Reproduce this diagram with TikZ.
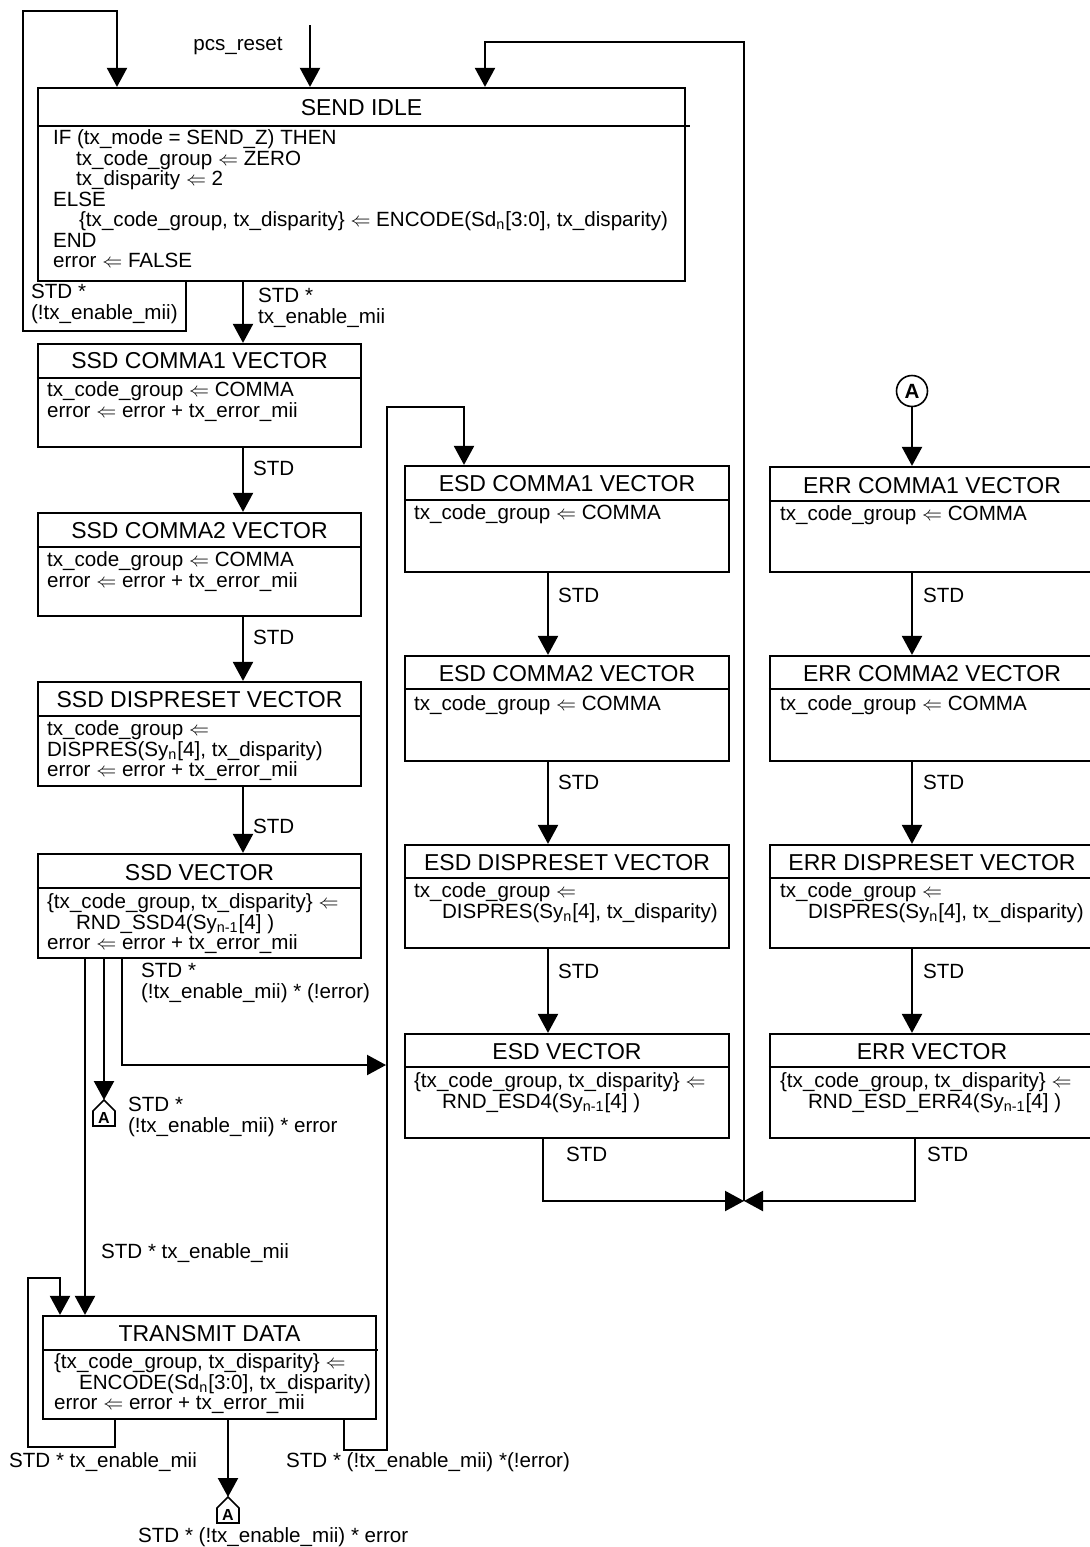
\documentclass[tikz,border=0pt]{standalone}
\usepackage{fontspec}
\setmainfont{Liberation Sans}
\usetikzlibrary{arrows.meta,fit}
\newcommand{\bodyfont}{\fontsize{10.3pt}{10.25pt}\selectfont}
\newcommand{\ttlfont}{\fontsize{11.5pt}{12pt}\selectfont}
\newcommand{\lto}{$\Leftarrow$}

\begin{document}
\begin{tikzpicture}[
  x=0.5pt, y=-0.5pt,
  line width=1.1pt,
  state/.style={draw, inner sep=0pt},
  ttl/.style={font=\ttlfont, anchor=base, inner sep=0pt},
  txt/.style={font=\bodyfont, align=left, anchor=north west, inner sep=0pt, yshift=0.75pt, execute at begin node=\strut},
  arr/.style={-{Triangle[length=9.5pt,width=10pt]}},
  offpage/.style={font=\fontsize{8pt}{8pt}\selectfont\bfseries, inner sep=0pt}
]
\useasboundingbox (0,0) rectangle (1089,1547);

% send idle
\node[state, fit={(38,88) (685,281)}] (idle) {};
\node[ttl] (idlettl) at (idle.north |- 0,115) {SEND IDLE};
\draw (idle.west |- 0,126) -- (690,126);
\node[txt] (idlebody) at (52,130) {IF (tx\_mode = SEND\_Z) THEN\\
  \hspace*{11.5pt}tx\_code\_group \lto{} ZERO\\
  \hspace*{11.5pt}tx\_disparity \lto{} 2\\
  ELSE\\
  \hspace*{13pt}\{tx\_code\_group, tx\_disparity\} \lto{} ENCODE(Sd\textsubscript{n}[3:0], tx\_disparity)\\
  END\\
  error \lto{} FALSE};

% ssd column
\node[state, fit={(38,344) (361,447)}] (ssdc1) {};
\node[ttl] (ssdc1ttl) at (ssdc1.north |- 0,368) {SSD COMMA1 VECTOR};
\draw (ssdc1.west |- 0,378) -- (ssdc1.east |- 0,378);
\node[txt] (ssdc1body) at (46,382) {tx\_code\_group \lto{} COMMA\\ error \lto{} error + tx\_error\_mii};

\node[state, fit={(38,513) (361,616)}] (ssdc2) {};
\node[ttl] (ssdc2ttl) at (ssdc2.north |- 0,538) {SSD COMMA2 VECTOR};
\draw (ssdc2.west |- 0,547) -- (ssdc2.east |- 0,547);
\node[txt] (ssdc2body) at (46,552) {tx\_code\_group \lto{} COMMA\\ error \lto{} error + tx\_error\_mii};

\node[state, fit={(38,682) (361,786)}] (ssdd) {};
\node[ttl] (ssddttl) at (ssdd.north |- 0,707) {SSD DISPRESET VECTOR};
\draw (ssdd.west |- 0,716) -- (ssdd.east |- 0,716);
\node[txt] (ssddbody) at (46,721) {tx\_code\_group \lto{}\\ DISPRES(Sy\textsubscript{n}[4], tx\_disparity)\\ error \lto{} error + tx\_error\_mii};

\node[state, fit={(38,854) (361,958)}] (ssdv) {};
\node[ttl] (ssdvttl) at (ssdv.north |- 0,880) {SSD VECTOR};
\draw (ssdv.west |- 0,888) -- (ssdv.east |- 0,888);
\node[txt] (ssdvbody) at (46,894) {\{tx\_code\_group, tx\_disparity\} \lto{}\\
  \hspace*{14.5pt}RND\_SSD4(Sy\textsubscript{n-1}[4] )\\ error \lto{} error + tx\_error\_mii};

% transmit data
\node[state, fit={(43,1316) (376,1419)}] (txd) {};
\node[ttl] (txdttl) at (txd.north |- 0,1341) {TRANSMIT DATA};
\draw (txd.west |- 0,1350) -- (378,1350);
\node[txt] (txdbody) at (53,1354) {\{tx\_code\_group, tx\_disparity\} \lto{}\\
  \hspace*{12.5pt}ENCODE(Sd\textsubscript{n}[3:0], tx\_disparity)\\ error \lto{} error + tx\_error\_mii};

% esd column
\node[state, fit={(405,466) (729,572)}] (esdc1) {};
\node[ttl] (esdc1ttl) at (esdc1.north |- 0,491) {ESD COMMA1 VECTOR};
\draw (esdc1.west |- 0,500) -- (esdc1.east |- 0,500);
\node[txt] (esdc1body) at (413,505) {tx\_code\_group \lto{} COMMA};

\node[state, fit={(405,656) (729,761)}] (esdc2) {};
\node[ttl] (esdc2ttl) at (esdc2.north |- 0,681) {ESD COMMA2 VECTOR};
\draw (esdc2.west |- 0,689) -- (esdc2.east |- 0,689);
\node[txt] (esdc2body) at (413,696) {tx\_code\_group \lto{} COMMA};

\node[state, fit={(405,845) (729,948)}] (esdd) {};
\node[ttl] (esddttl) at (esdd.north |- 0,870) {ESD DISPRESET VECTOR};
\draw (esdd.west |- 0,878) -- (esdd.east |- 0,878);
\node[txt] (esddbody) at (413,883) {tx\_code\_group \lto{}\\ \hspace*{14pt}DISPRES(Sy\textsubscript{n}[4], tx\_disparity)};

\node[state, fit={(405,1034) (729,1138)}] (esdv) {};
\node[ttl] (esdvttl) at (esdv.north |- 0,1059) {ESD VECTOR};
\draw (esdv.west |- 0,1067) -- (esdv.east |- 0,1067);
\node[txt] (esdvbody) at (413,1073) {\{tx\_code\_group, tx\_disparity\} \lto{}\\ \hspace*{14pt}RND\_ESD4(Sy\textsubscript{n-1}[4] )};

% err column
\node[state, fit={(770,467) (1094,572)}] (errc1) {};
\node[ttl] (errc1ttl) at (errc1.north |- 0,493) {ERR COMMA1 VECTOR};
\draw (errc1.west |- 0,501) -- (errc1.east |- 0,501);
\node[txt] (errc1body) at (779,506) {tx\_code\_group \lto{} COMMA};

\node[state, fit={(770,656) (1094,761)}] (errc2) {};
\node[ttl] (errc2ttl) at (errc2.north |- 0,681) {ERR COMMA2 VECTOR};
\draw (errc2.west |- 0,689) -- (errc2.east |- 0,689);
\node[txt] (errc2body) at (779,696) {tx\_code\_group \lto{} COMMA};

\node[state, fit={(770,845) (1094,948)}] (errd) {};
\node[ttl] (errdttl) at (errd.north |- 0,870) {ERR DISPRESET VECTOR};
\draw (errd.west |- 0,878) -- (errd.east |- 0,878);
\node[txt] (errdbody) at (779,883) {tx\_code\_group \lto{}\\ \hspace*{14pt}DISPRES(Sy\textsubscript{n}[4], tx\_disparity)};

\node[state, fit={(770,1034) (1094,1138)}] (errv) {};
\node[ttl] (errvttl) at (errv.north |- 0,1059) {ERR VECTOR};
\draw (errv.west |- 0,1067) -- (errv.east |- 0,1067);
\node[txt] (errvbody) at (779,1073) {\{tx\_code\_group, tx\_disparity\} \lto{}\\ \hspace*{14pt}RND\_ESD\_ERR4(Sy\textsubscript{n-1}[4] )};

% connectors round send idle
\coordinate (rst) at (310,25);
\draw[arr] (rst) -- (idle.north -| rst);
\node[txt, anchor=north] (rstlbl) at (238,37) {pcs\_reset};
\draw[arr] (idle.south -| 186,0) |- (23,331) |- (117,11) -- (idle.north -| 117,0);
\node[txt] (idleloop) at (30,285) {STD *\\ (!tx\_enable\_mii)};
\draw[arr] (idle.south -| 243,0) -- (ssdc1.north -| 243,0);
\node[txt] (idleout) at (257,289) {STD *\\ tx\_enable\_mii};
\coordinate (merge) at (744,1201);
\draw[arr] (merge) |- (485,42) -- (idle.north -| 485,0);

% ssd chain
\draw[arr] (ssdc1.south -| 243,0) -- (ssdc2.north -| 243,0);
\node[txt] (lbl1) at (252,462) {STD};
\draw[arr] (ssdc2.south -| 243,0) -- (ssdd.north -| 243,0);
\node[txt] (lbl2) at (252,631) {STD};
\draw[arr] (ssdd.south -| 243,0) -- (ssdv.north -| 243,0);
\node[txt] (lbl3) at (252,820) {STD};

% out of ssd vector
\draw[arr] (ssdv.south -| 85,0) -- (txd.north -| 85,0);
\node[txt] (lbl4) at (100,1244) {STD * tx\_enable\_mii};
\coordinate (offa1) at (104,1100);
\draw[arr] (ssdv.south -| offa1) -- (offa1);
\draw[line width=0.8pt] (offa1) -- ++(11,11) -- ++(0,15) -- ++(-22,0) -- ++(0,-15) -- cycle;
\node[offpage] (offa1lbl) at (104,1118) {A};
\node[txt] (lbl5) at (127,1098) {STD *\\ (!tx\_enable\_mii) * error};
\draw[arr] (ssdv.south -| 122,0) |- (386,1065);
\node[txt] (lbl6) at (140,964) {STD *\\ (!tx\_enable\_mii) * (!error)};

% out of transmit data
\draw[arr] (txd.south -| 115,0) |- (28,1447) |- (60,1278) -- (txd.north -| 60,0);
\node[txt] (lbl7) at (8,1453) {STD * tx\_enable\_mii};
\draw[arr] (txd.south -| 344,0) |- (387,1450) |- (464,407) -- (esdc1.north -| 464,0);
\node[txt] (lbl8) at (285,1453) {STD * (!tx\_enable\_mii) *(!error)};
\coordinate (offa2) at (228,1497);
\draw[arr] (txd.south -| offa2) -- (offa2);
\draw[line width=0.8pt] (offa2) -- ++(11,11) -- ++(0,15) -- ++(-22,0) -- ++(0,-15) -- cycle;
\node[offpage] (offa2lbl) at (228,1515) {A};
\node[txt] (lbl9) at (137,1528) {STD * (!tx\_enable\_mii) * error};

% esd chain
\draw[arr] (esdc1.south -| 548,0) -- (esdc2.north -| 548,0);
\node[txt] (lbl10) at (557,589) {STD};
\draw[arr] (esdc2.south -| 548,0) -- (esdd.north -| 548,0);
\node[txt] (lbl11) at (557,776) {STD};
\draw[arr] (esdd.south -| 548,0) -- (esdv.north -| 548,0);
\node[txt] (lbl12) at (557,965) {STD};
\draw[arr] (esdv.south -| 543,0) |- (merge);
\node[txt] (lbl13) at (565,1148) {STD};

% err chain
\node[draw, circle, minimum size=15.5pt, inner sep=0pt, line width=0.8pt, font=\bodyfont\bfseries] (cona) at (912,391) {A};
\draw[arr] (cona) -- (errc1.north -| cona);
\draw[arr] (errc1.south -| 912,0) -- (errc2.north -| 912,0);
\node[txt] (lbl14) at (922,589) {STD};
\draw[arr] (errc2.south -| 912,0) -- (errd.north -| 912,0);
\node[txt] (lbl15) at (922,776) {STD};
\draw[arr] (errd.south -| 912,0) -- (errv.north -| 912,0);
\node[txt] (lbl16) at (922,965) {STD};
\draw[arr] (errv.south -| 915,0) |- (merge);
\node[txt] (lbl17) at (926,1148) {STD};
\end{tikzpicture}
\end{document}
